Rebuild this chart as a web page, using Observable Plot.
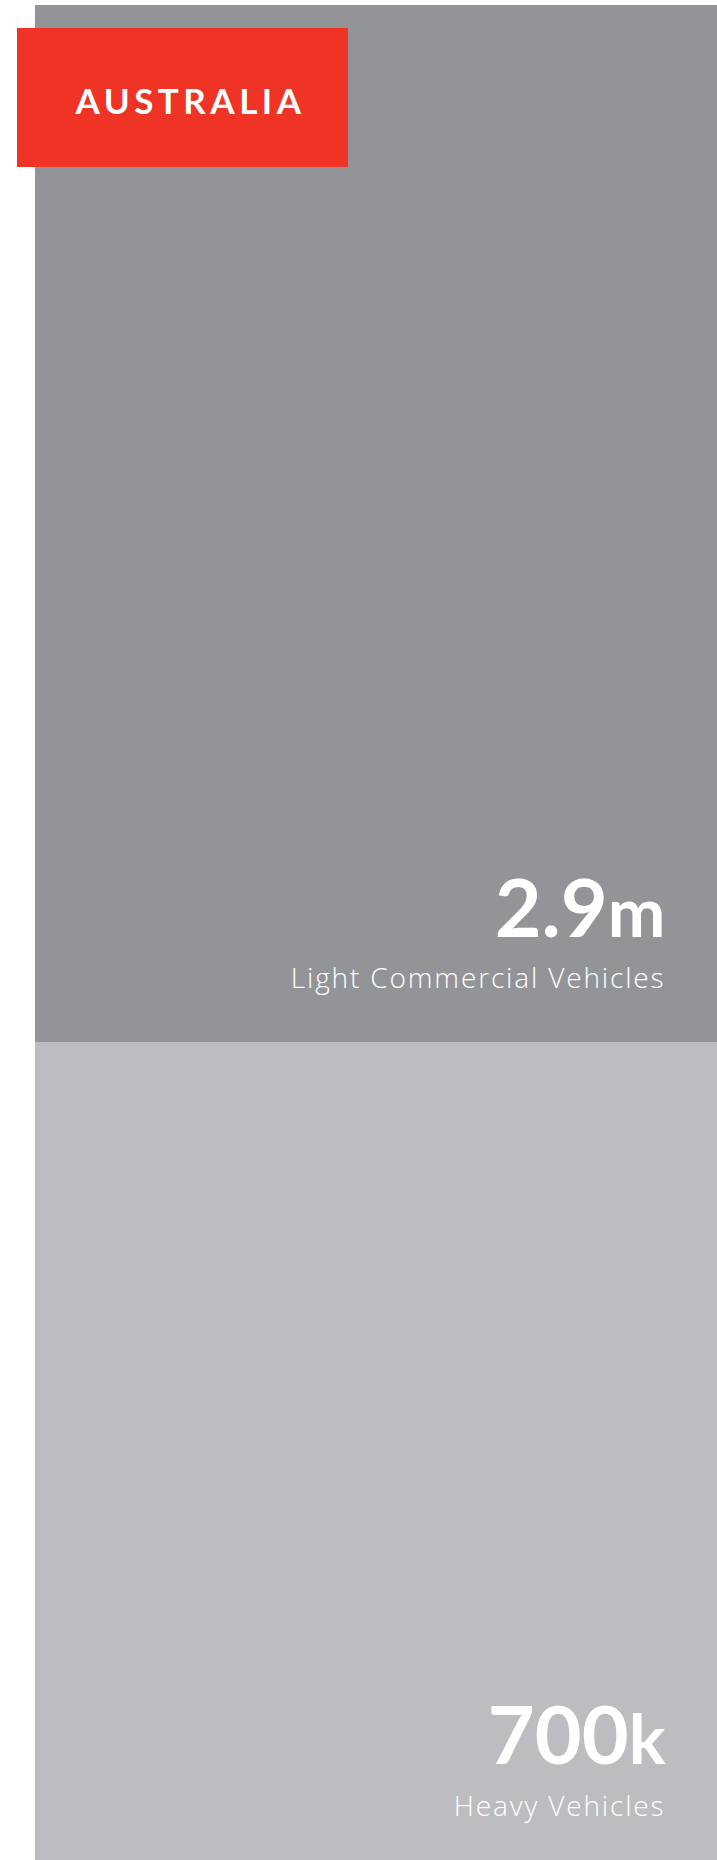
<!DOCTYPE html>
<html>
<head>
<meta charset="utf-8">
<script src="https://cdn.jsdelivr.net/npm/d3@7"></script>
<script src="https://cdn.jsdelivr.net/npm/@observablehq/plot@0.6"></script>
<style>
  body { margin: 0; background: #fff; }
  #wrap { position: relative; width: 717px; height: 1860px; overflow: hidden; }
  #title {
    position: absolute; left: 17px; top: 28px; width: 331px; height: 139px;
    background: #ef3425; color: #fff;
    font: 700 35px Lato, "DejaVu Sans", sans-serif; letter-spacing: 4.5px;
    display: flex; align-items: center; justify-content: center;
    box-sizing: border-box; padding-top: 4px; padding-left: 16px;
  }
  #chart svg { display: block; }
</style>
</head>
<body>
<div id="wrap">
  <div id="chart"></div>
  <div id="title"></div>
</div>
<script>
// Registered commercial vehicles, in millions
const country = "AUSTRALIA";
const categories = ["Heavy Vehicles", "Light Commercial Vehicles"];
const vehicles = [0.7, 2.9];
const valueLabels = ["700k", "2.9m"];
const colors = ["#bcbdc1", "#939498"];

const rows = categories.map((category, i) => ({
  country,
  category,
  vehicles: vehicles[i],
  label: valueLabels[i],
  base: d3.sum(vehicles.slice(0, i)) // bottom of each stacked segment
}));

const valueFont = "Lato, 'DejaVu Sans', sans-serif";
const nameFont = "'Open Sans', 'DejaVu Sans', sans-serif";

// Value and name labels sit just above the bottom edge of each segment
function segmentLabels(row, valueDy, nameDy) {
  return [
    Plot.text([row], {
      y: "base", text: "label", frameAnchor: "right", textAnchor: "end",
      lineAnchor: "bottom", dx: -52, dy: valueDy,
      fill: "#fff", fontSize: 81, fontWeight: 700, fontFamily: valueFont
    }),
    Plot.text([row], {
      y: "base", text: "category", frameAnchor: "right", textAnchor: "end",
      lineAnchor: "bottom", dx: -52, dy: nameDy,
      fill: "#fff", fontSize: 28, fontWeight: 300, fontFamily: nameFont
    })
  ];
}

const chart = Plot.plot({
  width: 717,
  height: 1860,
  marginLeft: 35,
  marginRight: 0,
  marginTop: 5,
  marginBottom: 0,
  x: { type: "band", domain: [country], padding: 0, axis: null },
  y: { type: "sqrt", domain: [0, d3.sum(vehicles)], axis: null },
  color: { domain: categories, range: colors },
  marks: [
    Plot.barY(rows, { x: "country", y: "vehicles", fill: "category" }),
    ...segmentLabels(rows[0], -97, -45),
    ...segmentLabels(rows[1], -106, -55)
  ]
});

// Open letter spacing on the segment names
d3.select(chart).selectAll("text")
  .filter(function () { return categories.includes(this.textContent); })
  .attr("letter-spacing", "1.85px");

// Set the unit suffix (k / m) of each value label slightly smaller
d3.select(chart).selectAll("text").each(function () {
  const m = /^([\d.]+)([km])$/.exec(this.textContent);
  if (!m) return;
  const t = d3.select(this).text(null);
  t.append("tspan").text(m[1]);
  t.append("tspan").attr("font-size", "0.85em").text(m[2]);
});

document.getElementById("chart").append(chart);
document.getElementById("title").textContent = country;
</script>
</body>
</html>
